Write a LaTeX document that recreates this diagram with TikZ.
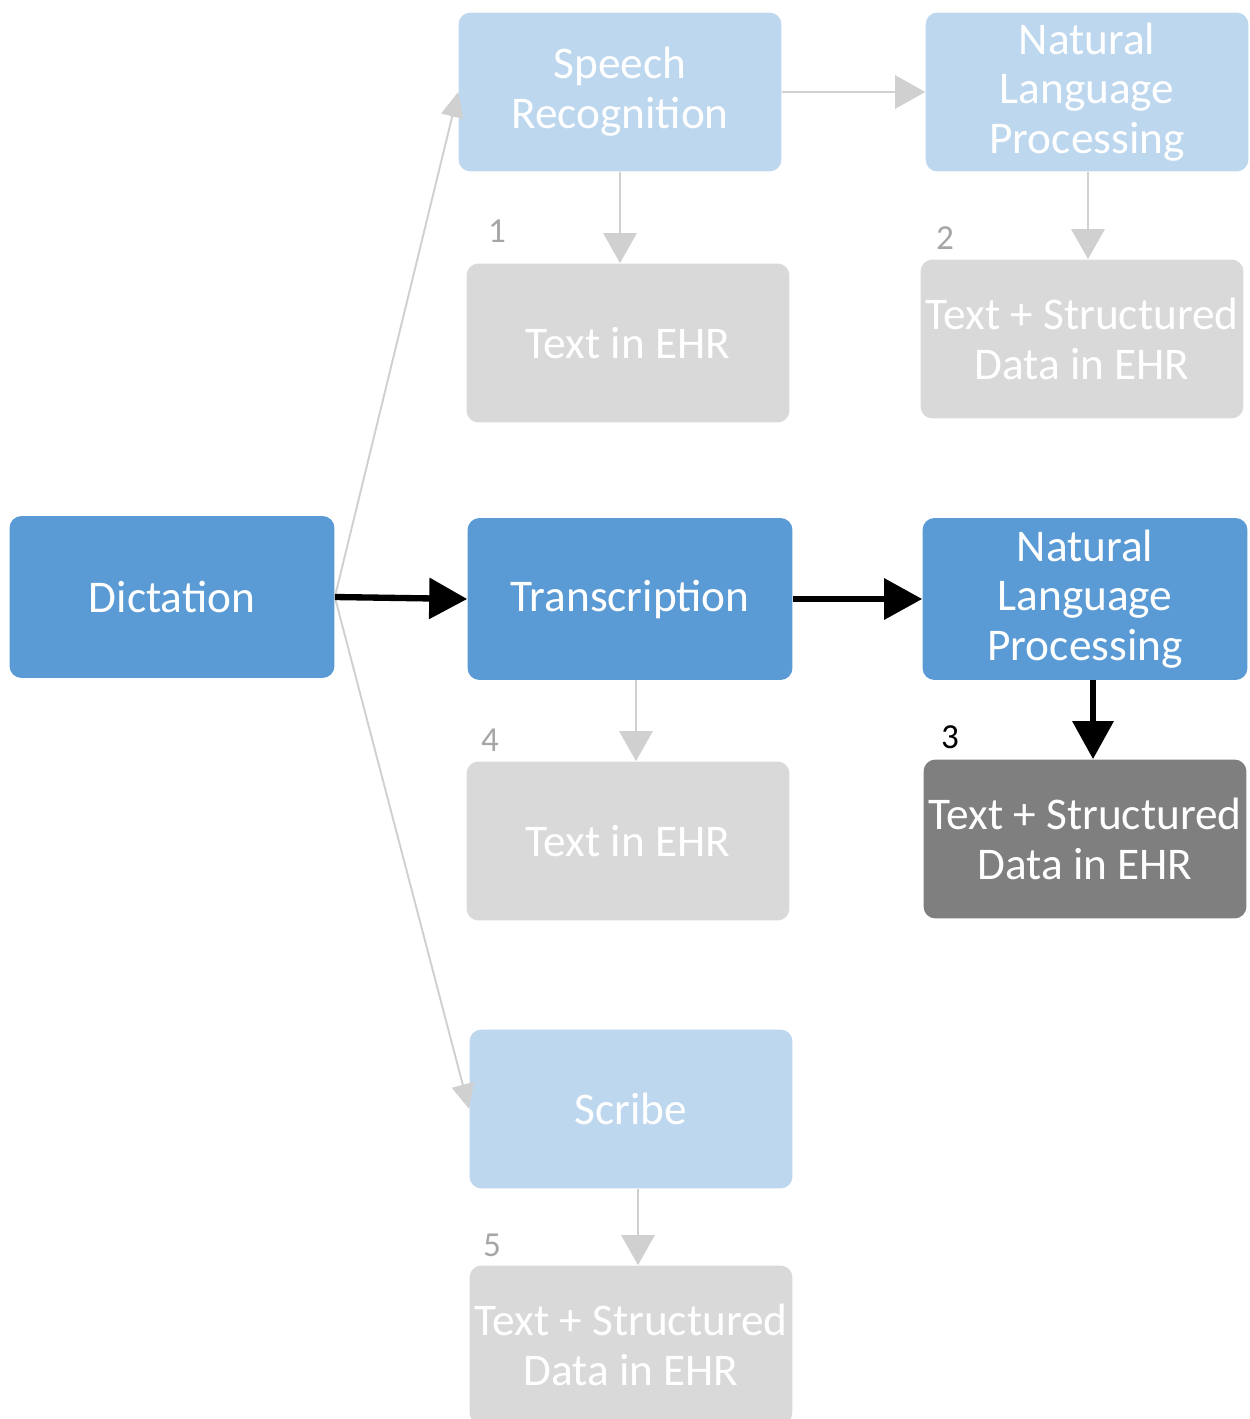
\documentclass[tikz,border=0pt]{standalone}
\usepackage{fontspec}
\setmainfont{Carlito}
\usetikzlibrary{arrows.meta}

\definecolor{paleblue}{HTML}{BDD7EE}
\definecolor{midblue}{HTML}{5B9BD5}
\definecolor{palegray}{HTML}{D9D9D9}
\definecolor{slategray}{HTML}{7F7F7F}
\definecolor{numgray}{HTML}{A6A6A6}
\definecolor{arrowgray}{HTML}{D0D0D0}

\tikzset{
  box/.style={rectangle,rounded corners=0.24cm,minimum width=6.46cm,
              minimum height=3.18cm,inner sep=0pt,align=center,text=white,
              font=\fontsize{25.8}{28.3}\selectfont},
  idle/.style={box,fill=paleblue},
  active/.style={box,fill=midblue},
  record/.style={box,fill=palegray},
  result/.style={box,fill=slategray},
  num/.style={text=numgray,font=\fontsize{20}{22}\selectfont}
}

\begin{document}
\begin{tikzpicture}[x=0.02cm,y=-0.02cm]
\useasboundingbox (0,0) rectangle (1250,1419);
\clip (0,0) rectangle (1250,1419);

\begin{scope}
    \node[active, minimum width=6.5cm, minimum height=3.24cm] (dict) at (172,597) {Dictation};
    \node[idle] (sr) at (620,92) {Speech\\Recognition};
    \node[idle] (nlpa) at (1087,92) {Natural\\Language\\Processing};
    \node[record] (ehra) at (628,343) {Text in EHR};
    \node[record] (ehrb) at (1082,339) {Text + Structured\\Data in EHR};
    \node[active, minimum width=6.5cm, minimum height=3.24cm] (trans) at (630,599) {Transcription};
    \node[active, minimum width=6.5cm, minimum height=3.24cm] (nlpb) at (1085,599) {Natural\\Language\\Processing};
    \node[record] (ehrc) at (628,841) {Text in EHR};
    \node[result] (ehrd) at (1085,839) {Text + Structured\\Data in EHR};
    \node[idle] (scribe) at (631,1109) {Scribe};
    \node[record] (ehre) at (631,1345) {Text + Structured\\Data in EHR};
\end{scope}

\begin{scope}[every node/.style={num}]
    \node (n1) at (497,231) {1};
    \node (n2) at (945,238) {2};
    \node[text=black] (n3) at (950,737) {3};
    \node (n4) at (490,740) {4};
    \node (n5) at (492,1245) {5};
\end{scope}

\begin{scope}[>={Triangle[length=0.5cm,width=0.45cm]},
              every edge/.style={draw=arrowgray,line width=1.1pt}]
    \path [->] (dict.east) edge (sr.west);
    \path [->] (dict.east) edge (scribe.west);
\end{scope}

\begin{scope}[>={Triangle[length=0.6cm,width=0.66cm]},
              every edge/.style={draw=arrowgray,line width=1.6pt}]
    \path [->] (sr.east) edge (nlpa.west);
    \path [->] (sr.south) edge (sr.south |- ehra.north);
    \path [->] ([xshift=0.02cm]nlpa.south) edge ([xshift=0.02cm]nlpa.south |- ehrb.north);
    \path [->] ([xshift=0.12cm]trans.south) edge ([xshift=0.12cm]trans.south |- ehrc.north);
    \path [->] ([xshift=0.14cm]scribe.south) edge ([xshift=0.14cm]scribe.south |- ehre.north);
\end{scope}

\begin{scope}[>={Triangle[length=0.76cm,width=0.8cm]},
              every edge/.style={draw=black,line width=3.6pt}]
    \path [->] (dict.east) edge (trans.west);
    \path [->] (trans.east) edge (nlpb.west);
    \path [->] ([xshift=0.16cm]nlpb.south) edge ([xshift=0.16cm]nlpb.south |- ehrd.north);
\end{scope}
\end{tikzpicture}
\end{document}
